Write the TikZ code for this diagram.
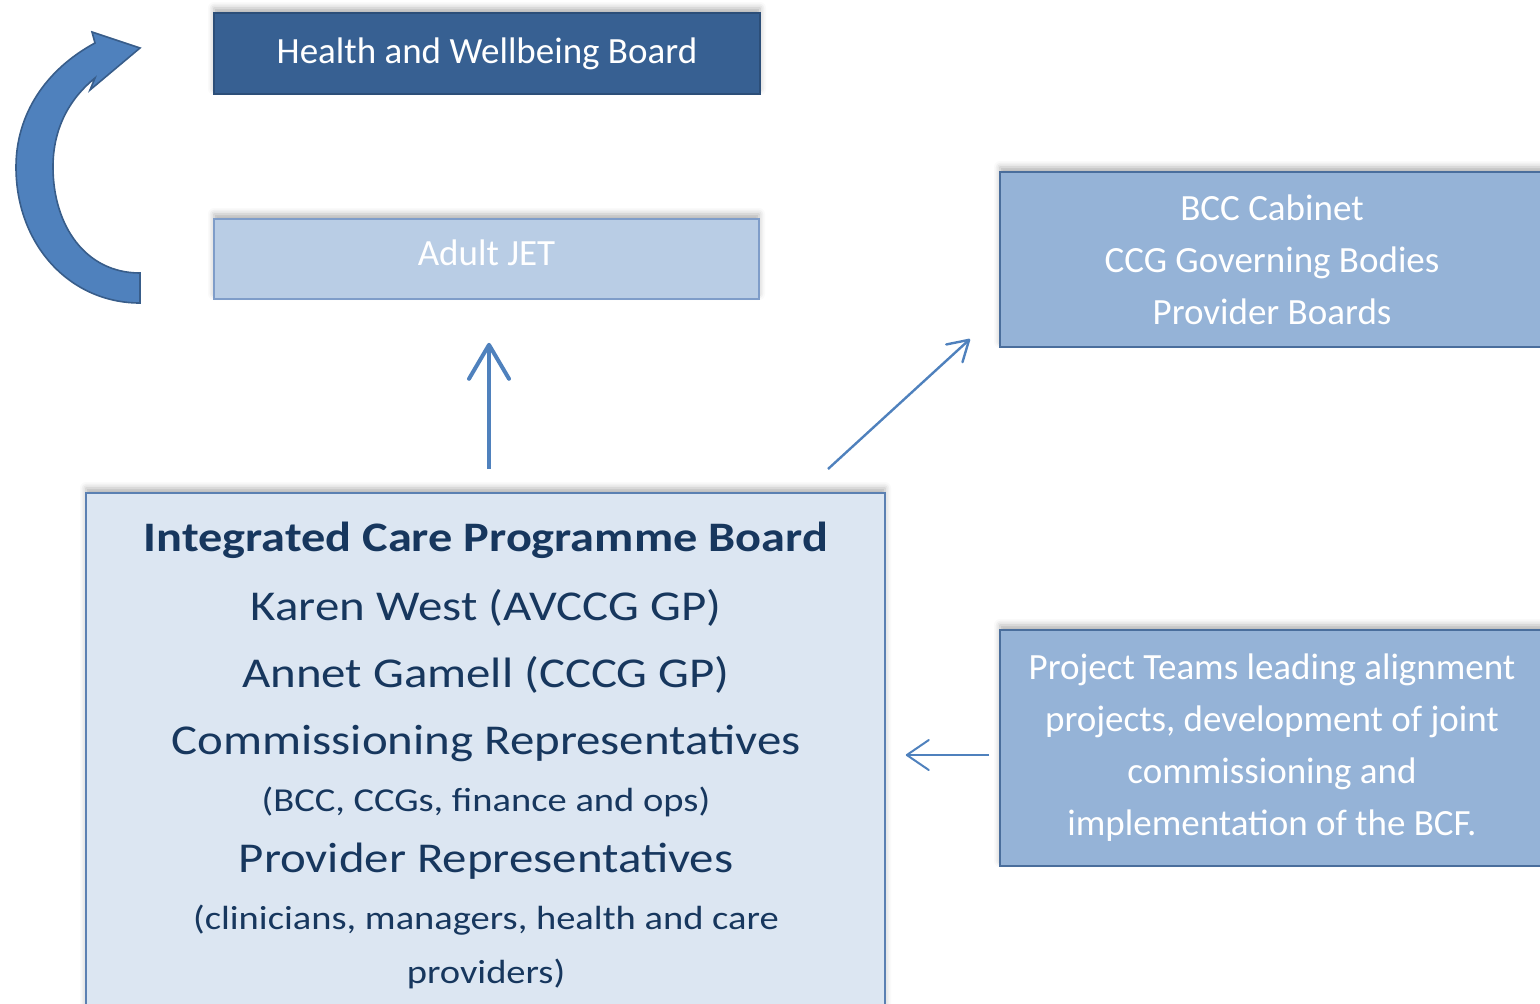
\documentclass[tikz,border=0pt]{standalone}
\usepackage{fontspec}
\setmainfont{Carlito}
\newfontfamily\widefont[FakeStretch=1.15]{Carlito}
\usepackage{xcolor}
\usepackage{tikz}
\usetikzlibrary{positioning, arrows.meta, shadows.blur}

\definecolor{hwbblue}{HTML}{376092}
\definecolor{hwbline}{HTML}{2C4E78}
\definecolor{jetfill}{HTML}{B9CDE5}
\definecolor{jetline}{HTML}{7F9DC9}
\definecolor{midfill}{HTML}{95B3D7}
\definecolor{midline}{HTML}{4A6E9C}
\definecolor{icpfill}{HTML}{DCE6F2}
\definecolor{icpline}{HTML}{5B80B2}
\definecolor{icptext}{HTML}{17375E}
\definecolor{arrowblue}{HTML}{4F81BD}
\definecolor{loopline}{HTML}{385D8A}

\tikzset{
	board/.style={rectangle, draw, line width=0.8pt, align=center, text=white,
		font=\fontsize{18.5}{26}\selectfont,
		blur shadow={shadow xshift=0pt, shadow yshift=2.5pt, shadow blur radius=3pt, shadow opacity=30}},
	topboard/.style={board, fill=hwbblue, draw=hwbline},
	jetboard/.style={board, fill=jetfill, draw=jetline},
	sideboard/.style={board, fill=midfill, draw=midline},
	icpboard/.style={board, fill=icpfill, draw=icpline},
	icptitle/.style={anchor=base, text=icptext, font=\widefont\bfseries\fontsize{21}{26}\selectfont},
	icpline/.style={anchor=base, text=icptext, font=\widefont\fontsize{21.25}{26}\selectfont},
	icpnote/.style={anchor=base, text=icptext, font=\widefont\fontsize{16.75}{20}\selectfont},
	uparr/.style={-{Straight Barb[length=17pt, width=20pt, round]}, draw=arrowblue, line width=2pt},
	thinarr/.style={-{Straight Barb[length=10pt, width=12pt, round]}, draw=arrowblue, line width=1.2pt},
	leftarr/.style={-{Straight Barb[length=11pt, width=15pt, round]}, draw=arrowblue, line width=1pt}
}

\begin{document}
\begin{tikzpicture}[x=0.5pt, y=-0.5pt]
	\useasboundingbox (0,0) rectangle (1540,1003);

	\node[topboard, minimum width=273pt, minimum height=40.5pt] (hwb) at (487,53.5) {Health and Wellbeing Board};
	\node[jetboard, minimum width=272.5pt, minimum height=40pt, text depth=6pt] (jet) at (486.5,259) {Adult JET};
	\node[sideboard, minimum width=272pt, minimum height=87.5pt] (bcc) at (1272,259.5) {BCC Cabinet\\CCG Governing Bodies\\Provider Boards};
	\node[sideboard, minimum width=272pt, minimum height=118pt] (proj) at (1272,748) {Project Teams leading alignment\\projects, development of joint\\commissioning and\\implementation of the BCF.};
	\node[icpboard, minimum width=399.5pt, minimum height=273.5pt] (icpb) at (485.5,766.5) {};

	\node[icptitle] (title) at (486,551) {Integrated Care Programme Board};
	\node[icpline] (karen) at (486,620) {Karen West (AVCCG GP)};
	\node[icpline] (annet) at (486,687) {Annet Gamell (CCCG GP)};
	\node[icpline] (comm) at (486,754) {Commissioning Representatives};
	\node[icpnote] (commnote) at (486,811) {(BCC, CCGs, finance and ops)};
	\node[icpline] (prov) at (486,872) {Provider Representatives};
	\node[icpnote] (provnote) at (486,929) {(clinicians, managers, health and care};
	\node[icpnote] (provnotetwo) at (486,983) {providers)};

	\fill[arrowblue, draw=loopline, line width=0.8pt] (140,303) .. controls (70,303) and (16,245) .. (16,167)
		.. controls (16,115) and (45,70) .. (95,43) -- (92,32) -- (140,48) -- (90,90) -- (95,78)
		.. controls (68,100) and (53,130) .. (53,167)
		.. controls (53,225) and (85,273) .. (140,273) -- cycle;

	\coordinate (diagfrom) at (828,469);
	\coordinate (diagto) at (970,339);

	\draw (icpb.north -| 489,0) edge[uparr, shorten <=11.5pt, shorten >=21.5pt] (jet.south -| 489,0);
	\draw (diagfrom) edge[thinarr] (diagto);
	\draw (proj.west |- 0,755) edge[leftarr, shorten <=5pt, shorten >=10pt] (icpb.east |- 0,755);
\end{tikzpicture}
\end{document}
